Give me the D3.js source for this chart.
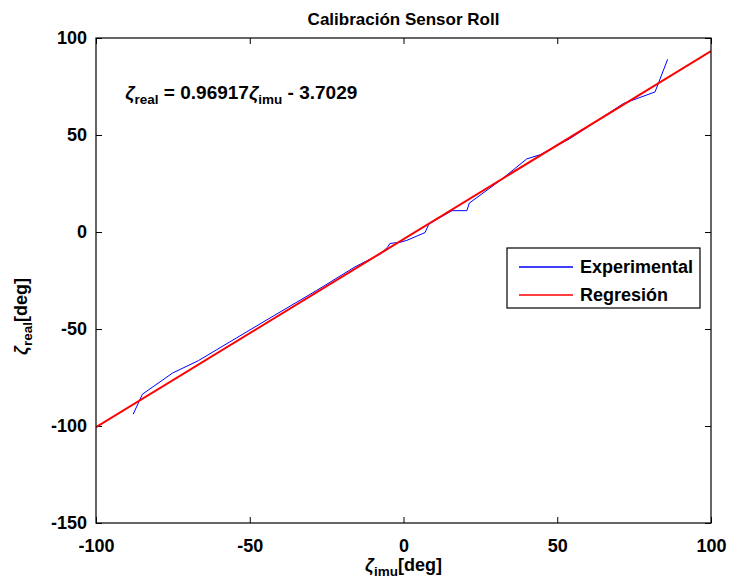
<!DOCTYPE html>
<html>
<head>
<meta charset="utf-8">
<script src="https://cdn.jsdelivr.net/npm/d3@7"></script>
<style>
  body { margin: 0; background: #fff; }
  svg text { font-family: "Liberation Sans", Arial, sans-serif; font-weight: bold; }
</style>
</head>
<body>
<svg id="chart" width="731" height="582"></svg>
<script>
const imuDeg  = [-87.9, -84.9, -75.1, -66.7, -43.4, -28.2, -15.8, -7.6, -5.2, -4.4, -1.1, 1.1, 7.0, 8.3, 15.8, 20.6, 21.4, 31.4, 40.1, 44.4, 54.1, 71.5, 81.8, 85.9];
const realDeg = [-93.9, -83.6, -72.7, -66.3, -44.3, -30.1, -18.0, -11.4, -7.9, -5.9, -5.3, -4.3, -0.3, 4.2, 11.0, 11.0, 14.9, 26.5, 37.7, 39.8, 48.1, 66.2, 72.2, 89.0];

// regression fit
const slope = 0.96917;
const intercept = -3.7029;
const fitX = [-100, 100];

const xTicks = [-100, -50, 0, 50, 100];
const yTicks = [-150, -100, -50, 0, 50, 100];
const seriesNames = ["Experimental", "Regresión"];
const seriesColors = ["#0000ff", "#ff0000"];

const svg = d3.select("#chart");
const margin = { top: 38, right: 20, bottom: 59, left: 96 };
const width = +svg.attr("width") - margin.left - margin.right;
const height = +svg.attr("height") - margin.top - margin.bottom;

const g = svg.append("g").attr("transform", "translate(" + margin.left + "," + margin.top + ")");

const x = d3.scaleLinear().domain([-100, 100]).range([0, width]);
const y = d3.scaleLinear().domain([-150, 100]).range([height, 0]);

g.append("defs").append("clipPath").attr("id", "clip")
  .append("rect").attr("width", width).attr("height", height);

// axes with inward ticks (matlab style)
const fontSize = 18;
const subSize = 13.5;
const plain = d => String(d); // hyphen minus like matlab
function styleAxis(sel, hideLabels) {
  sel.select(".domain").remove();
  sel.selectAll(".tick line").attr("stroke", "#000").attr("stroke-width", 1);
  sel.selectAll(".tick text").attr("fill", "#000").style("font-size", fontSize + "px");
  if (hideLabels) sel.selectAll(".tick text").remove();
}

g.append("g").attr("transform", "translate(0," + height + ")")
  .call(d3.axisBottom(x).tickValues(xTicks).tickSize(-6).tickPadding(16).tickFormat(plain))
  .call(s => styleAxis(s, false));
g.append("g")
  .call(d3.axisTop(x).tickValues(xTicks).tickSize(-6))
  .call(s => styleAxis(s, true));
g.append("g")
  .call(d3.axisLeft(y).tickValues(yTicks).tickSize(-6).tickPadding(9).tickFormat(plain))
  .call(s => styleAxis(s, false));
g.append("g").attr("transform", "translate(" + width + ",0)")
  .call(d3.axisRight(y).tickValues(yTicks).tickSize(-6))
  .call(s => styleAxis(s, true));

const plot = g.append("g").attr("clip-path", "url(#clip)");

const line = d3.line().x(d => x(d[0])).y(d => y(d[1]));

plot.append("path")
  .datum(imuDeg.map((v, i) => [v, realDeg[i]]))
  .attr("fill", "none").attr("stroke", seriesColors[0]).attr("stroke-width", 1)
  .attr("d", line);

plot.append("path")
  .datum(fitX.map(v => [v, slope * v + intercept]))
  .attr("fill", "none").attr("stroke", seriesColors[1]).attr("stroke-width", 2)
  .attr("d", line);

// box
g.append("rect").attr("width", width).attr("height", height)
  .attr("fill", "none").attr("stroke", "#000").attr("stroke-width", 1.2);

// equation
const eq = g.append("text").attr("x", x(-90.5)).attr("y", y(68.5)).style("font-size", (fontSize + 1) + "px");
eq.append("tspan").style("font-style", "italic").text("ζ");
eq.append("tspan").attr("dy", 5).style("font-size", subSize + "px").text("real");
eq.append("tspan").attr("dy", -5).text(" = " + slope + "");
eq.append("tspan").style("font-style", "italic").text("ζ");
eq.append("tspan").attr("dy", 5).style("font-size", subSize + "px").text("imu");
eq.append("tspan").attr("dy", -5).text(" - " + Math.abs(intercept));

// title
svg.append("text").attr("x", margin.left + width / 2).attr("y", 25)
  .attr("text-anchor", "middle").style("font-size", "17px").text("Calibración Sensor Roll");

// x label
const xl = svg.append("text").attr("x", margin.left + width / 2).attr("y", 571)
  .attr("text-anchor", "middle").style("font-size", fontSize + "px");
xl.append("tspan").style("font-style", "italic").text("ζ");
xl.append("tspan").attr("dy", 5).style("font-size", subSize + "px").text("imu");
xl.append("tspan").attr("dy", -5).text("[deg]");

// y label
const yl = svg.append("text")
  .attr("transform", "translate(27," + (margin.top + height / 2 + 36) + ") rotate(-90)")
  .attr("text-anchor", "middle").style("font-size", fontSize + "px");
yl.append("tspan").style("font-style", "italic").text("ζ");
yl.append("tspan").attr("dy", 5).style("font-size", subSize + "px").text("real");
yl.append("tspan").attr("dy", -5).text("[deg]");

// legend
const lg = g.append("g").attr("transform", "translate(" + (507 - margin.left) + "," + (248 - margin.top) + ")");
lg.append("rect").attr("width", 193).attr("height", 60)
  .attr("fill", "#fff").attr("stroke", "#000").attr("stroke-width", 1.2);
seriesNames.forEach((name, i) => {
  const yy = 19 + i * 28;
  lg.append("line").attr("x1", 12).attr("x2", 66).attr("y1", yy).attr("y2", yy)
    .attr("stroke", seriesColors[i]).attr("stroke-width", 1.5);
  lg.append("text").attr("x", 73).attr("y", yy + 6).style("font-size", fontSize + "px").text(name);
});
</script>
</body>
</html>
